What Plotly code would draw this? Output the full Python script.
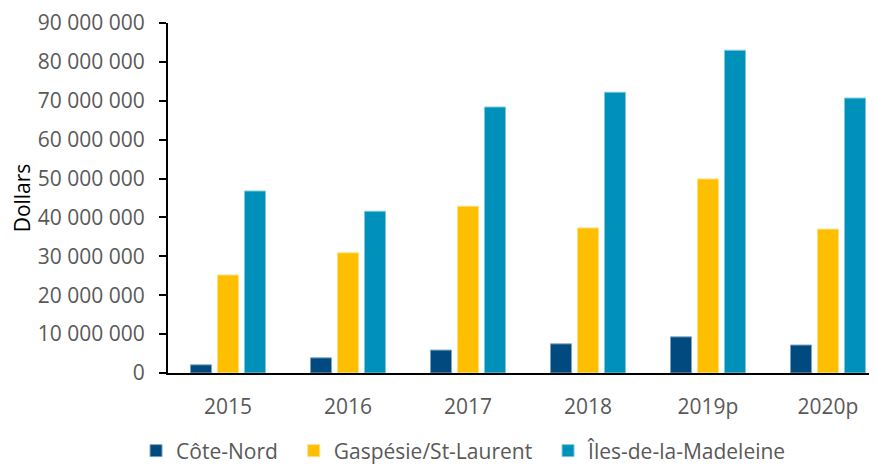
import plotly.graph_objects as go

categories = ["2015", "2016", "2017", "2018", "2019p", "2020p"]
cote_nord = [2.1e6, 3.9e6, 5.9e6, 7.5e6, 9.3e6, 7.2e6]
gaspesie = [25.2e6, 30.9e6, 42.9e6, 37.3e6, 49.9e6, 37.0e6]
iles = [46.8e6, 41.6e6, 68.4e6, 72.2e6, 83.0e6, 70.7e6]

series_names = ["Côte-Nord", "Gaspésie/St-Laurent", "Îles-de-la-Madeleine"]
legend_pad = ["\u00a0\u00a0", "\u00a0\u00a0", ""]
colors = ["#004A7F", "#FDBF00", "#0091BB"]
edge = ["#7fa4bf", "#fedf80", "#80c8dd"]

font_family = "Open Sans"
grey = "#595959"
fs = 21

fig = go.Figure()
for name, pad, vals, c, e in zip(series_names, legend_pad, [cote_nord, gaspesie, iles], colors, edge):
    fig.add_trace(go.Bar(x=categories, y=vals, name=name + pad,
                         hovertemplate=name + ": %{y}<extra></extra>",
                         marker=dict(color=c, line=dict(color=e, width=1))))

fig.update_layout(
    width=877, height=466,
    margin=dict(l=160, r=0, t=15, b=101),
    plot_bgcolor="white", paper_bgcolor="white",
    barmode="group", bargap=0.325, bargroupgap=0.22,
    separators=", ",
    font=dict(family=font_family, size=fs, color=grey),
    showlegend=True,
    legend=dict(orientation="h", xref="container", yref="container",
                x=0.146, xanchor="left", y=0.0494, yanchor="middle",
                font=dict(size=fs, color=grey), itemwidth=30, traceorder="normal"),
    xaxis=dict(range=[-0.5, 5.475], showline=True, linecolor="black", linewidth=2,
               ticks="", ticklabelstandoff=14, tickfont=dict(size=fs, color=grey)),
    yaxis=dict(range=[0, 90e6], dtick=10e6, tickformat=",d", showgrid=False,
               showline=True, linecolor="black", linewidth=2, ticks="outside",
               ticklen=7, tickcolor="black", tickwidth=2, ticklabelstandoff=10,
               tickfont=dict(size=fs, color=grey), zeroline=False,
               title=dict(text="Dollars", font=dict(size=fs, color="black"), standoff=8)),
)

fig.write_html("out.html")
